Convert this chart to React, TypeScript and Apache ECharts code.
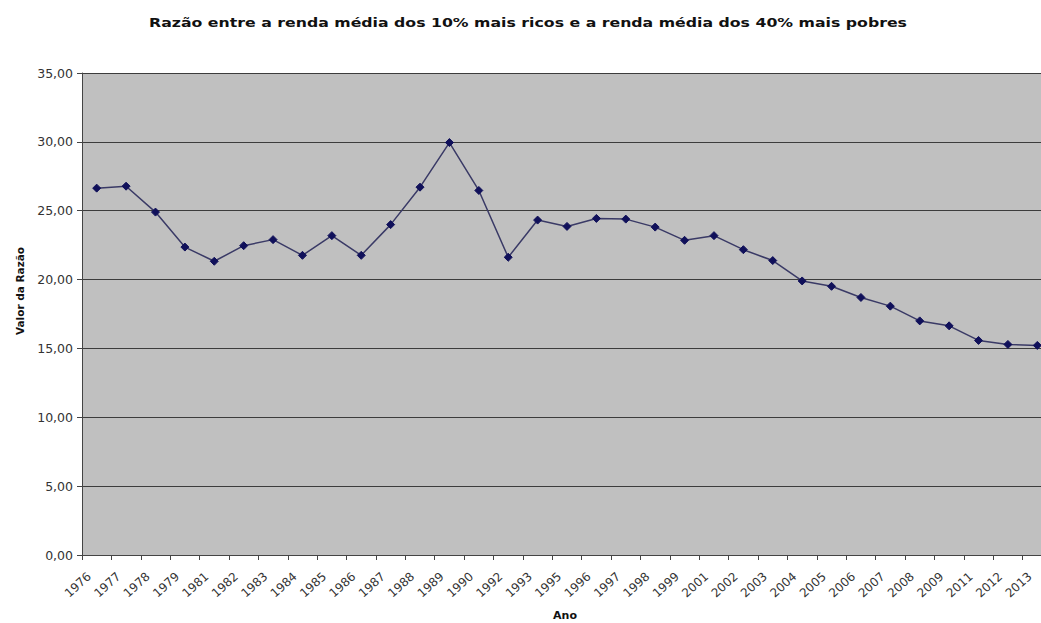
import React, { useEffect, useRef } from "react";
import * as echarts from "echarts";

const years = [
  "1976", "1977", "1978", "1979", "1981", "1982", "1983", "1984", "1985", "1986", "1987",
  "1988", "1989", "1990", "1992", "1993", "1995", "1996", "1997", "1998", "1999", "2001",
  "2002", "2003", "2004", "2005", "2006", "2007", "2008", "2009", "2011", "2012", "2013",
];

const ratio = [
  26.64, 26.78, 24.9, 22.36, 21.33, 22.46, 22.9, 21.76, 23.19, 21.76, 23.99,
  26.71, 29.95, 26.47, 21.62, 24.32, 23.86, 24.44, 24.39, 23.81, 22.85, 23.19,
  22.17, 21.38, 19.9, 19.51, 18.7, 18.07, 17.0, 16.64, 15.58, 15.29, 15.22,
];

const titleText = "Razão entre a renda média dos 10% mais ricos e a renda média dos 40% mais pobres";
const yAxisTitle = "Valor da Razão";
const xAxisTitle = "Ano";

const fmt = (v: number) => v.toFixed(2).replace(".", ",");

export default function App() {
  const ref = useRef<HTMLDivElement>(null);

  useEffect(() => {
    if (!ref.current) return;
    const chart = echarts.init(ref.current, undefined, { renderer: "svg" });
    const font = "'DejaVu Sans', Arial, sans-serif";
    chart.setOption({
      animation: false,
      backgroundColor: "#ffffff",
      textStyle: { fontFamily: font },
      graphic: [
        {
          type: "text",
          x: 528,
          y: 23,
          scaleX: 1.26,
          style: {
            text: titleText,
            fill: "#111",
            font: `bold 12.5px ${font}`,
            textAlign: "center",
            textVerticalAlign: "middle",
          },
        },
        {
          type: "text",
          x: 20,
          y: 291,
          rotation: Math.PI / 2,
          style: {
            text: yAxisTitle,
            fill: "#111",
            font: `bold 10.5px ${font}`,
            textAlign: "center",
            textVerticalAlign: "middle",
          },
        },
        {
          type: "text",
          x: 565,
          y: 615,
          style: {
            text: xAxisTitle,
            fill: "#111",
            font: `bold 11px ${font}`,
            textAlign: "center",
            textVerticalAlign: "middle",
          },
        },
      ],
      grid: {
        left: 82,
        top: 73,
        right: -11,
        bottom: 68,
        show: true,
        backgroundColor: "#c0c0c0",
        borderWidth: 0,
        containLabel: false,
        outerBoundsMode: "none",
      },
      xAxis: {
        type: "category",
        data: years,
        boundaryGap: true,
        axisLine: { show: true, lineStyle: { color: "#444", width: 1 } },
        axisTick: { show: true, alignWithLabel: false, length: 5, interval: 0, lineStyle: { color: "#444" } },
        axisLabel: {
          interval: 0,
          rotate: 42,
          fontSize: 12,
          color: "#333",
          margin: 13,
          padding: [0, 10, 0, 0],
          fontFamily: font,
        },
        splitLine: { show: false },
      },
      yAxis: {
        type: "value",
        min: 0,
        max: 35,
        interval: 5,
        axisLine: { show: true, lineStyle: { color: "#444", width: 1 } },
        axisTick: { show: true, length: 5, lineStyle: { color: "#444" } },
        axisLabel: { fontSize: 12.5, color: "#333", margin: 9, formatter: (v: number) => fmt(v), fontFamily: font },
        splitLine: { show: true, lineStyle: { color: "#3c3c3c", width: 1 } },
      },
      series: [
        {
          type: "line",
          data: ratio,
          symbol: "diamond",
          symbolSize: 8,
          showSymbol: true,
          lineStyle: { color: "#3a3a66", width: 1.5 },
          itemStyle: { color: "#10105a", borderColor: "#10105a" },
          clip: true,
        },
      ],
    });
    return () => chart.dispose();
  }, []);

  return (
    <div
      ref={ref}
      style={{ position: "fixed", left: 0, top: 0, width: 1041, height: 623 }}
    />
  );
}
